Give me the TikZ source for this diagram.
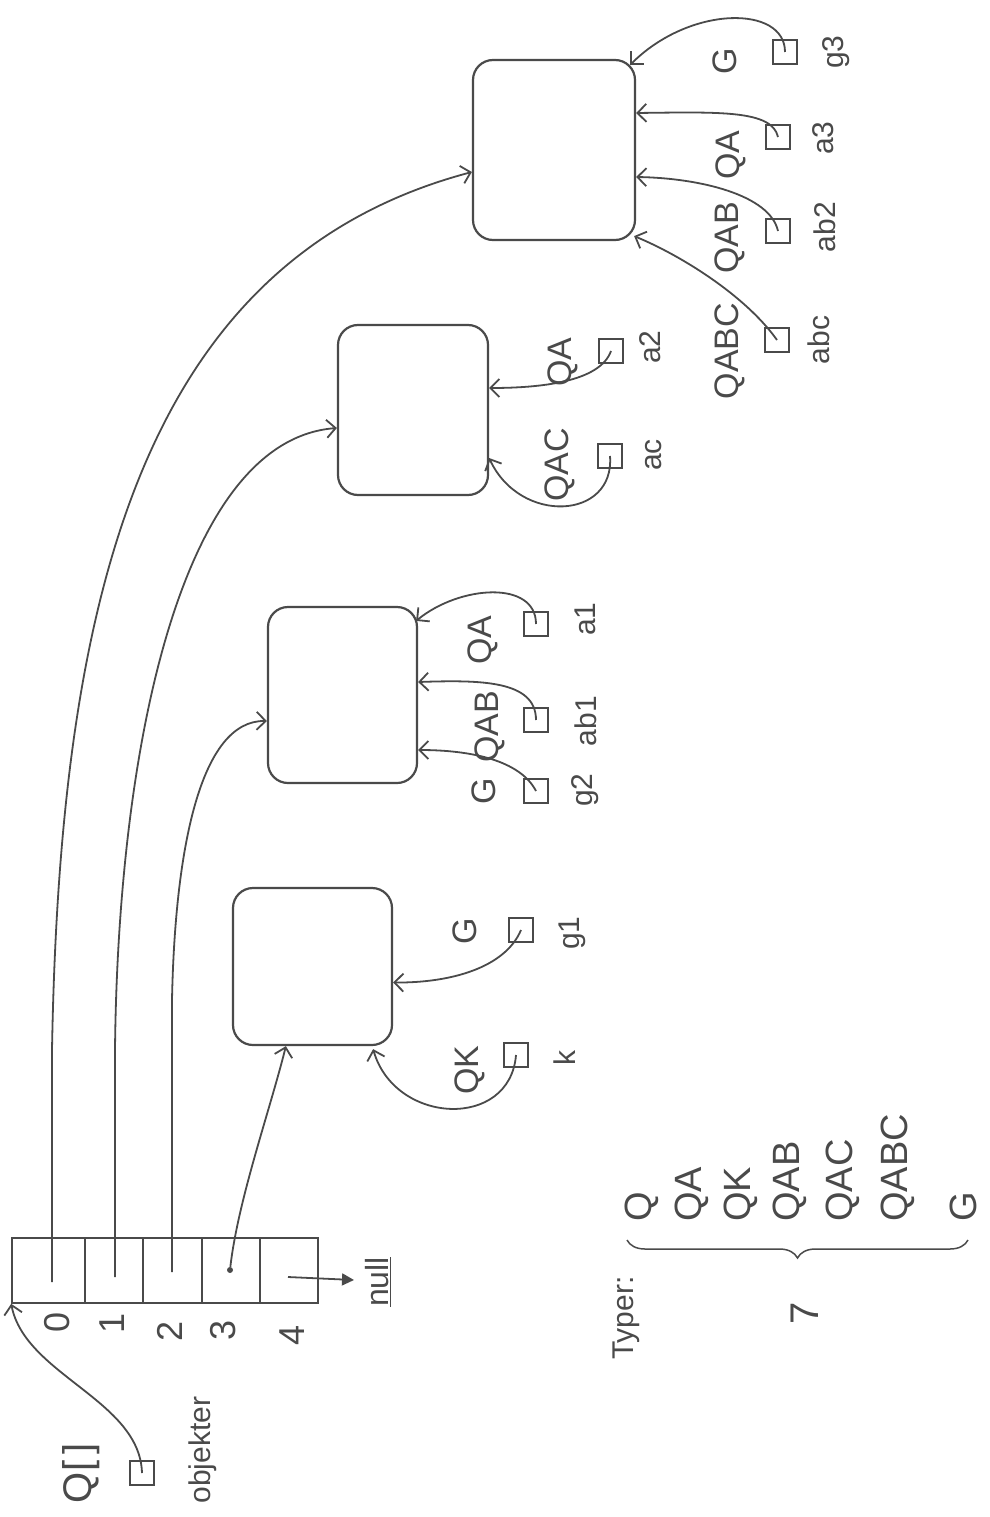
\documentclass[tikz,border=0pt]{standalone}
\usepackage{fontspec}
\setmainfont{Liberation Sans}
\usetikzlibrary{arrows.meta,calc,decorations.pathreplacing}
\definecolor{ink}{HTML}{4A4A4A}
\begin{document}
\begin{tikzpicture}[x=1pt,y=-1pt,
  objbox/.style={draw=ink, line width=2.2pt, rounded corners=20pt, inner sep=0pt},
  cell/.style={draw=ink, line width=1.6pt, inner sep=0pt, minimum height=65pt},
  sq/.style={draw=ink, line width=1.7pt, minimum size=24pt, inner sep=0pt},
  big/.style={rotate=90, text=ink, inner sep=0pt, font=\fontsize{34pt}{34pt}\selectfont},
  small/.style={rotate=90, text=ink, inner sep=0pt, font=\fontsize{30pt}{30pt}\selectfont},
  ptr/.style={draw=ink, line width=1.8pt, -{Straight Barb[length=9pt,width=18pt,line width=1.8pt]}}
]
\useasboundingbox (0,0) rectangle (989,1517);

% ---------- array ----------
\node[cell, minimum width=73pt] (c0) at (48.5,1270.5) {};
\node[cell, minimum width=58pt] (c1) at (114,1270.5) {};
\node[cell, minimum width=59pt] (c2) at (172.5,1270.5) {};
\node[cell, minimum width=58pt] (c3) at (231,1270.5) {};
\node[cell, minimum width=58pt] (c4) at (289,1270.5) {};

\node[small, font=\fontsize{36pt}{36pt}\selectfont] (i0) at (57,1322) {0};
\node[small, font=\fontsize{36pt}{36pt}\selectfont] (i1) at (112,1323) {1};
\node[small, font=\fontsize{36pt}{36pt}\selectfont] (i2) at (170,1331) {2};
\node[small, font=\fontsize{36pt}{36pt}\selectfont] (i3) at (223,1330) {3};
\node[small, font=\fontsize{36pt}{36pt}\selectfont] (i4) at (292,1335) {4};

\coordinate (p0) at (52,1282);
\coordinate (p1) at (115,1277);
\coordinate (p2) at (172,1272);
\node[circle, fill=ink, inner sep=0pt, minimum size=6pt] (d3) at (230,1270) {};
\coordinate (p4) at (288,1277);
\coordinate (nulltip) at (354,1280);
\node[small, font=\fontsize{32pt}{32pt}\selectfont] (nul) at (378,1282) {\underline{null}};

% Q[] objekter
\node[big, font=\fontsize{40pt}{40pt}\selectfont] (qlab) at (81,1473) {Q[\,]};
\node[sq] (qsq) at (142,1473) {};
\node[small] (obj) at (203,1450) {objekter};

% ---------- object boxes ----------
\node[objbox, minimum width=159pt, minimum height=157pt] (b1) at (312.5,966.5) {};
\node[objbox, minimum width=149pt, minimum height=176pt] (b2) at (342.5,695) {};
\node[objbox, minimum width=150pt, minimum height=170pt] (b3) at (413,410) {};
\node[objbox, minimum width=162pt, minimum height=180pt] (b4) at (554,150) {};

% box 1 references
\node[sq] (sk) at (516,1055) {};
\node[big] (lqk) at (470,1070) {QK};
\node[small] (lk) at (565,1058) {k};
\node[sq] (sg1) at (521,930) {};
\node[big] (lg1t) at (465,931) {G};
\node[small] (lg1) at (572,933) {g1};

% box 2 references
\node[sq] (sa1) at (536,624) {};
\node[big] (la1t) at (483,640) {QA};
\node[small] (la1) at (585,619) {a1};
\node[sq] (sab1) at (536,720) {};
\node[big] (lab1t) at (490,727) {QAB};
\node[small] (lab1) at (586,721) {ab1};
\node[sq] (sg2) at (536,791) {};
\node[big] (lg2t) at (484,791) {G};
\node[small] (lg2) at (585,790) {g2};

% box 3 references
\node[sq] (sa2) at (611,351) {};
\node[big] (la2t) at (563,362) {QA};
\node[small] (la2) at (650,347) {a2};
\node[sq] (sac) at (610,456) {};
\node[big] (lact) at (560,465) {QAC};
\node[small] (lac) at (654,455) {ac};

% box 4 references
\node[sq] (sg3) at (785,52) {};
\node[big] (lg3t) at (725,61) {G};
\node[small] (lg3) at (836,52) {g3};
\node[sq] (sa3) at (778,137) {};
\node[big] (la3t) at (731,155) {QA};
\node[small] (la3) at (823,138) {a3};
\node[sq] (sab2) at (778,231) {};
\node[big] (lab2t) at (730,238) {QAB};
\node[small] (lab2) at (825,227) {ab2};
\node[sq] (sabc) at (777,340) {};
\node[big] (labct) at (730,351) {QABC};
\node[small] (labc) at (819,340) {abc};

% ---------- types ----------
\node[small] (typer) at (626,1318) {Typer:};
\node[big, anchor=west, font=\fontsize{38pt}{38pt}\selectfont] (t1) at (642,1222) {Q};
\node[big, anchor=west, font=\fontsize{38pt}{38pt}\selectfont] (t2) at (692,1222) {QA};
\node[big, anchor=west, font=\fontsize{38pt}{38pt}\selectfont] (t3) at (741,1222) {QK};
\node[big, anchor=west, font=\fontsize{38pt}{38pt}\selectfont] (t4) at (790,1222) {QAB};
\node[big, anchor=west, font=\fontsize{38pt}{38pt}\selectfont] (t5) at (843,1222) {QAC};
\node[big, anchor=west, font=\fontsize{38pt}{38pt}\selectfont] (t6) at (898,1222) {QABC};
\node[big, anchor=west, font=\fontsize{38pt}{38pt}\selectfont] (t7) at (963,1222) {G};
\draw[ink, line width=1.5pt, decorate, decoration={brace, amplitude=18pt, mirror}] (627,1240) -- (968,1240);
\node[small, font=\fontsize{40pt}{40pt}\selectfont] (seven) at (805,1313) {7};

% ---------- connectors ----------
\draw[ptr] (p0) -- (52,1050) .. controls (60,600) and (140,260) .. ($(b4.west)+(0,22)$);
\draw[ptr] (p1) -- (115,1050) .. controls (118,750) and (180,440) .. ($(b3.west)+(0,18)$);
\draw[ptr] (p2) -- (172,1000) .. controls (175,850) and (200,720) .. ($(b2.west)+(0,26)$);
\draw[ptr] (d3) .. controls (238,1200) and (270,1110) .. ($(b1.south west)+(54,0)$);
\draw[draw=ink, line width=1.8pt, -{Triangle[length=12pt,width=12pt]}] (p4) -- (nulltip);
\draw[ptr] (qsq.center) .. controls (140,1400) and (25,1375) .. (c0.south west);

\draw[ptr] (sk.center) .. controls (510,1130) and (395,1125) .. ($(b1.south east)+(-20,3)$);
\draw[ptr] (sg1.center) .. controls (505,968) and (450,983) .. ($(b1.east)+(0,16)$);

\draw[ptr] (sa1.center) .. controls (536,580) and (460,585) .. ($(b2.north east)+(-2,15)$);
\draw[ptr] (sab1.center) .. controls (536,680) and (480,680) .. ($(b2.east)+(0,-13)$);
\draw[ptr] (sg2.center) .. controls (520,760) and (470,750) .. ($(b2.east)+(0,55)$);

\draw[ptr] (sa2.center) .. controls (600,382) and (540,388) .. ($(b3.east)+(0,-22)$);
\draw[ptr] (sac.center) .. controls (615,520) and (520,525) .. ($(b3.east)+(0,48)$);

\draw[ptr] (sg3.center) .. controls (785,5) and (690,5) .. ($(b4.north east)+(-6,6)$);
\draw[ptr] (sa3.center) .. controls (772,110) and (720,112) .. ($(b4.east)+(0,-37)$);
\draw[ptr] (sab2.center) .. controls (770,195) and (700,178) .. ($(b4.east)+(0,27)$);
\draw[ptr] (sabc.center) .. controls (745,295) and (680,255) .. ($(b4.south east)+(-2,-5)$);
\end{tikzpicture}
\end{document}
